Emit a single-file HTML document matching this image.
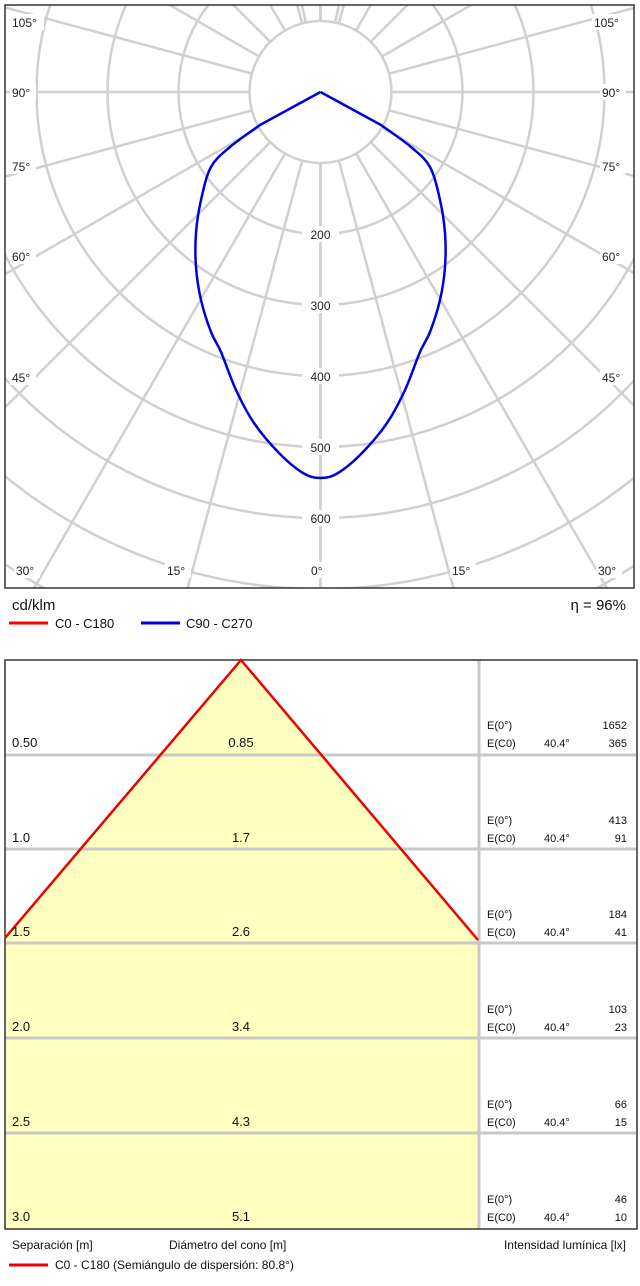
<!DOCTYPE html>
<html><head><meta charset="utf-8"><style>
html,body{margin:0;padding:0;background:#fff;}
svg{display:block;font-family:"Liberation Sans",Arial,sans-serif;}
</style></head><body>
<svg width="640" height="1286" viewBox="0 0 640 1286" xmlns="http://www.w3.org/2000/svg">
<defs><clipPath id="pc"><rect x="5" y="5" width="629" height="583"/></clipPath></defs>
<g clip-path="url(#pc)" stroke="#d0d0d0" stroke-width="2.5" fill="none">
<circle cx="320.5" cy="92" r="71"/><circle cx="320.5" cy="92" r="142"/><circle cx="320.5" cy="92" r="213"/><circle cx="320.5" cy="92" r="284"/><circle cx="320.5" cy="92" r="355"/><circle cx="320.5" cy="92" r="426"/><circle cx="320.5" cy="92" r="497"/><circle cx="320.5" cy="92" r="568"/><circle cx="320.5" cy="92" r="639"/>
<g id="spokes"></g>
</g>
<rect x="5" y="5" width="629" height="583" fill="none" stroke="#333" stroke-width="1.5"/>
<g font-size="12" fill="#222" text-anchor="middle">
<rect x="302" y="226" width="37" height="16" fill="#fff"/><text x="320.5" y="239">200</text>
<rect x="302" y="297" width="37" height="16" fill="#fff"/><text x="320.5" y="310">300</text>
<rect x="302" y="368" width="37" height="16" fill="#fff"/><text x="320.5" y="381">400</text>
<rect x="302" y="439" width="37" height="16" fill="#fff"/><text x="320.5" y="452">500</text>
<rect x="302" y="510" width="37" height="16" fill="#fff"/><text x="320.5" y="523">600</text>
</g>
<g font-size="12" fill="#222">
<rect x="10" y="14" width="34" height="16" fill="#fff"/><text x="12" y="27">105°</text>
<rect x="10" y="84" width="26" height="16" fill="#fff"/><text x="12" y="97">90°</text>
<rect x="10" y="158" width="26" height="16" fill="#fff"/><text x="12" y="171">75°</text>
<rect x="10" y="248" width="26" height="16" fill="#fff"/><text x="12" y="261">60°</text>
<rect x="10" y="369" width="26" height="16" fill="#fff"/><text x="12" y="382">45°</text>
<rect x="14" y="562" width="26" height="16" fill="#fff"/><text x="16" y="575">30°</text>
<rect x="165" y="562" width="26" height="16" fill="#fff"/><text x="167" y="575">15°</text>
<rect x="309" y="562" width="22" height="16" fill="#fff"/><text x="311" y="575">0°</text>
<rect x="450" y="562" width="26" height="16" fill="#fff"/><text x="452" y="575">15°</text>
<rect x="596" y="562" width="26" height="16" fill="#fff"/><text x="598" y="575">30°</text>
<rect x="592" y="14" width="34" height="16" fill="#fff"/><text x="594" y="27">105°</text>
<rect x="600" y="84" width="26" height="16" fill="#fff"/><text x="602" y="97">90°</text>
<rect x="600" y="158" width="26" height="16" fill="#fff"/><text x="602" y="171">75°</text>
<rect x="600" y="248" width="26" height="16" fill="#fff"/><text x="602" y="261">60°</text>
<rect x="600" y="369" width="26" height="16" fill="#fff"/><text x="602" y="382">45°</text>
</g>
<path id="curve" fill="none" stroke="#0000e0" stroke-width="2.5" stroke-linejoin="round" d=""/>
<g font-size="15" fill="#111">
<text x="12" y="610">cd/klm</text>
<text x="626" y="610" text-anchor="end">η = 96%</text>
</g>
<line x1="9" y1="623" x2="48" y2="623" stroke="#ff0000" stroke-width="3"/>
<line x1="141" y1="623" x2="180" y2="623" stroke="#0000e0" stroke-width="3"/>
<g font-size="13" fill="#111"><text x="55" y="628">C0 - C180</text><text x="186" y="628">C90 - C270</text></g>

<polygon points="241,660 5,938 5,1229 478,1229 478,940" fill="#ffffc0"/>
<g stroke="#c8c8c8" stroke-width="3">
<line x1="5" y1="755" x2="637" y2="755"/><line x1="5" y1="849" x2="637" y2="849"/><line x1="5" y1="943" x2="637" y2="943"/><line x1="5" y1="1038" x2="637" y2="1038"/><line x1="5" y1="1133" x2="637" y2="1133"/>
<line x1="479" y1="660" x2="479" y2="1229"/>
</g>
<rect x="5" y="660" width="632" height="569" fill="none" stroke="#333" stroke-width="1.5"/>
<polyline points="5,938 241,660 478,940" fill="none" stroke="#ee0000" stroke-width="2.5"/>
<g font-size="13" fill="#111">
<text x="12" y="747">0.50</text><text x="241" y="747" text-anchor="middle">0.85</text>
<text x="12" y="842">1.0</text><text x="241" y="842" text-anchor="middle">1.7</text>
<text x="12" y="936">1.5</text><text x="241" y="936" text-anchor="middle">2.6</text>
<text x="12" y="1031">2.0</text><text x="241" y="1031" text-anchor="middle">3.4</text>
<text x="12" y="1126">2.5</text><text x="241" y="1126" text-anchor="middle">4.3</text>
<text x="12" y="1221">3.0</text><text x="241" y="1221" text-anchor="middle">5.1</text>
</g>
<g font-size="11" fill="#111">
<text x="487" y="729">E(0°)</text><text x="487" y="747">E(C0)</text><text x="544" y="747">40.4°</text><text x="627" y="729" text-anchor="end">1652</text><text x="627" y="747" text-anchor="end">365</text>
<text x="487" y="824">E(0°)</text><text x="487" y="842">E(C0)</text><text x="544" y="842">40.4°</text><text x="627" y="824" text-anchor="end">413</text><text x="627" y="842" text-anchor="end">91</text>
<text x="487" y="918">E(0°)</text><text x="487" y="936">E(C0)</text><text x="544" y="936">40.4°</text><text x="627" y="918" text-anchor="end">184</text><text x="627" y="936" text-anchor="end">41</text>
<text x="487" y="1013">E(0°)</text><text x="487" y="1031">E(C0)</text><text x="544" y="1031">40.4°</text><text x="627" y="1013" text-anchor="end">103</text><text x="627" y="1031" text-anchor="end">23</text>
<text x="487" y="1108">E(0°)</text><text x="487" y="1126">E(C0)</text><text x="544" y="1126">40.4°</text><text x="627" y="1108" text-anchor="end">66</text><text x="627" y="1126" text-anchor="end">15</text>
<text x="487" y="1203">E(0°)</text><text x="487" y="1221">E(C0)</text><text x="544" y="1221">40.4°</text><text x="627" y="1203" text-anchor="end">46</text><text x="627" y="1221" text-anchor="end">10</text>
</g>
<g font-size="12" fill="#111">
<text x="12" y="1249">Separación [m]</text>
<text x="169" y="1249">Diámetro del cono [m]</text>
<text x="626" y="1249" text-anchor="end">Intensidad lumínica [lx]</text>
<text x="55" y="1269">C0 - C180 (Semiángulo de dispersión: 80.8°)</text>
</g>
<line x1="9" y1="1265" x2="48" y2="1265" stroke="#ee0000" stroke-width="3"/>
</svg>
<script>
var g=document.getElementById('spokes'),s='';
var angs=[];
for(var a=0;a<=90;a+=15){angs.push(a);}
angs=angs.concat([105,120,135,150,165,168,180,192,195]);
var all=[];angs.forEach(function(a){all.push(a);all.push(-a);});
all.forEach(function(a){var t=a*Math.PI/180,c=Math.cos(t),n=Math.sin(t);
s+='<line x1="'+(320.5+71*n)+'" y1="'+(92+71*c)+'" x2="'+(320.5+900*n)+'" y2="'+(92+900*c)+'"/>';});
g.innerHTML=s;
var L=[[260,125],[230,147],[211,167],[201,200],[196,233],[196,267],[201,300],[211,332],[221,352],[236,390],[254,423],[279,453],[303,473],[320.5,478]];
var pts=[[320.5,92]];L.forEach(function(p){pts.push(p);});
for(var i=L.length-2;i>=0;i--){pts.push([641-L[i][0],L[i][1]]);}
pts.push([320.5,92]);
var d='M'+pts[0][0]+','+pts[0][1]+' L'+pts[1][0]+','+pts[1][1];
var n=pts.length;
for(var i=1;i<n-2;i++){var p0=pts[i-1],p1=pts[i],p2=pts[i+1],p3=pts[i+2];
if(i==1)p0=p1; if(i==n-3)p3=p2;
d+=' C'+(p1[0]+(p2[0]-p0[0])/6)+','+(p1[1]+(p2[1]-p0[1])/6)+' '+(p2[0]-(p3[0]-p1[0])/6)+','+(p2[1]-(p3[1]-p1[1])/6)+' '+p2[0]+','+p2[1];}
d+=' L'+pts[n-1][0]+','+pts[n-1][1];
document.getElementById('curve').setAttribute('d',d);
</script>
</body></html>
